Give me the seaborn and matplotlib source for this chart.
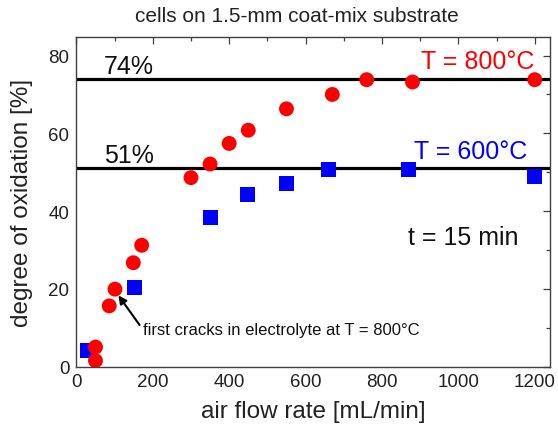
import matplotlib
matplotlib.use("Agg")
import matplotlib.pyplot as plt
import seaborn as sns
import pandas as pd
from matplotlib.ticker import MultipleLocator

# data
x_800 = [50, 50, 86, 101, 149, 171, 300, 350, 400, 450, 550, 670, 760, 880, 1200]
y_800 = [1.5, 5.0, 15.6, 19.9, 26.7, 31.2, 48.6, 52.1, 57.4, 60.8, 66.3, 70.0, 73.8, 73.2, 73.8]
x_600 = [30, 151, 350, 449, 551, 660, 870, 1200]
y_600 = [4.1, 20.4, 38.4, 44.2, 47.2, 50.8, 50.8, 49.0]
levels = [74, 51]
level_labels = ["74%", "51%"]

sns.set_theme(style="white")
plt.rcParams['font.family'] = ['Liberation Sans', 'DejaVu Sans']

df = pd.concat([
    pd.DataFrame({"x": x_600, "y": y_600, "T": "T = 600°C"}),
    pd.DataFrame({"x": x_800, "y": y_800, "T": "T = 800°C"}),
])

fig = plt.figure(figsize=(5.58, 4.31), dpi=100)
ax = fig.add_axes([0.1369, 0.1473, 0.9857 - 0.1369, 0.9111 - 0.1473])

for lv in levels:
    ax.axhline(lv, color="black", lw=2.3, zorder=1)

sns.scatterplot(data=df, x="x", y="y", hue="T", style="T",
                palette={"T = 600°C": "#0000ff", "T = 800°C": "#ff0000"},
                markers={"T = 600°C": "s", "T = 800°C": "o"},
                s=115, linewidth=0, ax=ax, legend=False, zorder=3)

ax.set_xlim(0, 1240)
ax.set_ylim(0, 84.7)
ax.xaxis.set_major_locator(MultipleLocator(200))
ax.xaxis.set_minor_locator(MultipleLocator(100))
ax.yaxis.set_major_locator(MultipleLocator(20))
ax.yaxis.set_minor_locator(MultipleLocator(10))
ax.tick_params(which="both", direction="in", top=True, right=True,
               color="#404040", labelcolor="#222222")
ax.tick_params(which="major", length=5, width=0.9, labelsize=13.5, pad=5)
ax.tick_params(which="minor", length=3, width=0.9)
for sp in ax.spines.values():
    sp.set_color("#404040")
    sp.set_linewidth(1.0)

ax.set_xlabel("air flow rate [mL/min]", fontsize=17.5, color="#222222", labelpad=7)
ax.set_ylabel("degree of oxidation [%]", fontsize=17.5, color="#222222", labelpad=11)

fig.text(297 / 558, 1 - 17 / 431, "cells on 1.5-mm coat-mix substrate",
         ha="center", va="center", fontsize=15, color="#222222")

for lv, lab in zip(levels, level_labels):
    ax.text(72, lv + 1.5, lab, fontsize=18, ha="left", va="baseline", color="#111111")

ax.text(1198, 76.8, "T = 800°C", color="#ff0000", fontsize=18, ha="right", va="baseline")
ax.text(1180, 53.6, "T = 600°C", color="#0000ff", fontsize=18, ha="right", va="baseline")
ax.text(1157, 33.2, "t = 15 min", color="#111111", fontsize=18, ha="right", va="center")

ax.annotate("first cracks in electrolyte at T = 800°C", xy=(110, 18.3),
            xytext=(174, 9.5), fontsize=12, color="#111111", ha="left", va="center",
            arrowprops=dict(arrowstyle="-|>", color="black", lw=1.5,
                            mutation_scale=12, shrinkA=0, shrinkB=0,
                            relpos=(0, 0.5)))

fig.savefig("out.png", dpi=100)
